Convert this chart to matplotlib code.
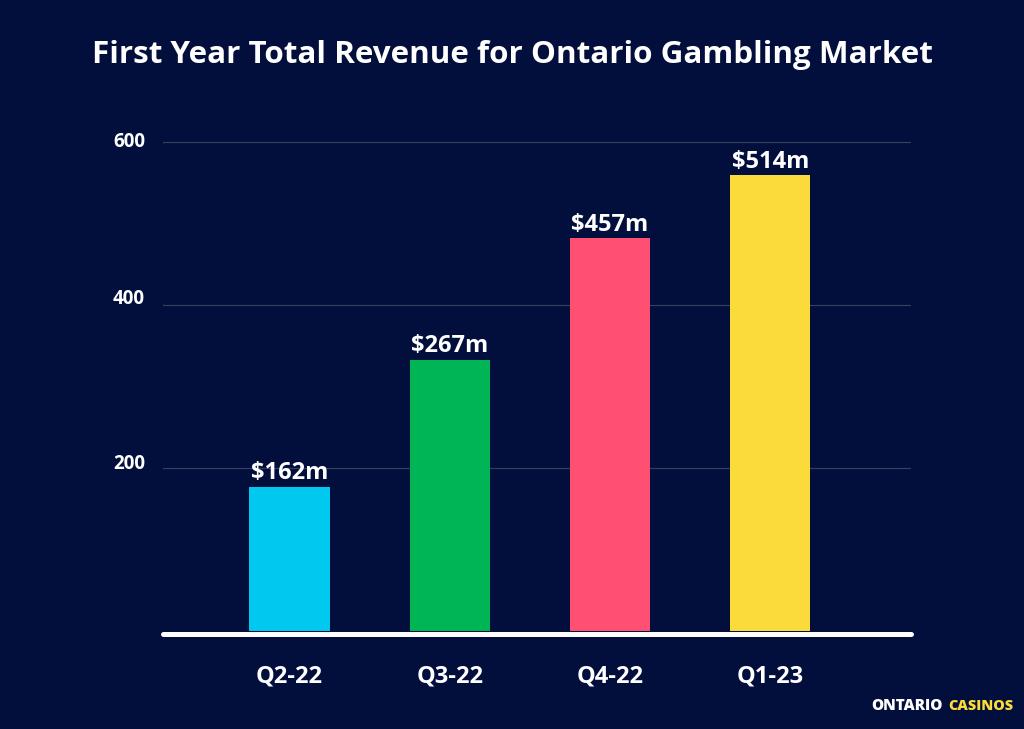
import matplotlib
matplotlib.use("Agg")
import matplotlib.pyplot as plt

categories = ['Q2-22', 'Q3-22', 'Q4-22', 'Q1-23']
bar_heights = [177, 333, 482, 559]
bar_labels = ['$162m', '$267m', '$457m', '$514m']
bar_colors = ['#00C8EF', '#00B556', '#FF4F73', '#FADB3A']
y_ticks = [200, 400, 600]

bg = '#020F3D'

plt.rcParams['font.family'] = ['Open Sans', 'DejaVu Sans']

W, H = 1024, 729
fig = plt.figure(figsize=(W / 100, H / 100), dpi=100, facecolor=bg)

# axes box in pixels: left 163, right 911, zero at 631, axis line at 634, 600 line at 142
px_per_unit = (631 - 142) / 600
top = 142 - 10
bottom = 634
ax = fig.add_axes([163 / W, (H - bottom) / H, (911 - 163) / W, (bottom - top) / H], facecolor=bg)
ax.set_ylim(-(bottom - 631) / px_per_unit, (631 - top) / px_per_unit)

step = 160.3
ax.set_xlim((163 - 289.5) / step, (911 - 289.5) / step)

x = list(range(len(categories)))
ax.bar(x, bar_heights, width=0.5, color=bar_colors, zorder=2)

for i, h in enumerate(bar_heights):
    ax.annotate(bar_labels[i], (x[i], h), xytext=(0, 1), textcoords='offset points',
                ha='center', va='bottom', color='white', fontsize=17, fontweight='bold')

ax.set_yticks(y_ticks)
ax.set_yticklabels([])
ax.set_xticks(x)
ax.set_xticklabels(categories)
ax.tick_params(axis='y', length=0)
ax.tick_params(axis='x', length=0, pad=22, labelcolor='white', labelsize=17)
for lab in ax.get_xticklabels():
    lab.set_fontweight('bold')

# y labels sit a little above their gridlines in the original
label_lift = [3, 4, 0]
for v, lift in zip(y_ticks, label_lift):
    ax.annotate(str(v), (0, v), xycoords=ax.get_yaxis_transform(), xytext=(-13, lift),
                textcoords='offset points', ha='right', va='center', color='white',
                fontsize=13.5, fontweight='bold')

ax.grid(axis='y', color='#3A4058', linewidth=0.8, zorder=0)
ax.set_axisbelow(True)
for s in ax.spines.values():
    s.set_visible(False)

# thick rounded baseline
ax.plot([0, 1], [0, 0], transform=ax.transAxes, color='white', linewidth=3.6,
        solid_capstyle='round', clip_on=False, zorder=3)

fig.text(512.5 / W, 1 - 55 / H, 'First Year Total Revenue for Ontario Gambling Market',
         ha='center', va='center', color='white', fontsize=22.6, fontweight='bold')

# logo
fig.text(943 / W, 1 - 706 / H, 'ONTARIO', ha='right', va='center', color='white',
         fontsize=11, fontweight='extra bold')
fig.text(948 / W, 1 - 706 / H, 'CASINOS', ha='left', va='center', color='#FADB3A',
         fontsize=10.4, fontweight='extra bold')

fig.savefig('out.png', dpi=100, facecolor=bg)
